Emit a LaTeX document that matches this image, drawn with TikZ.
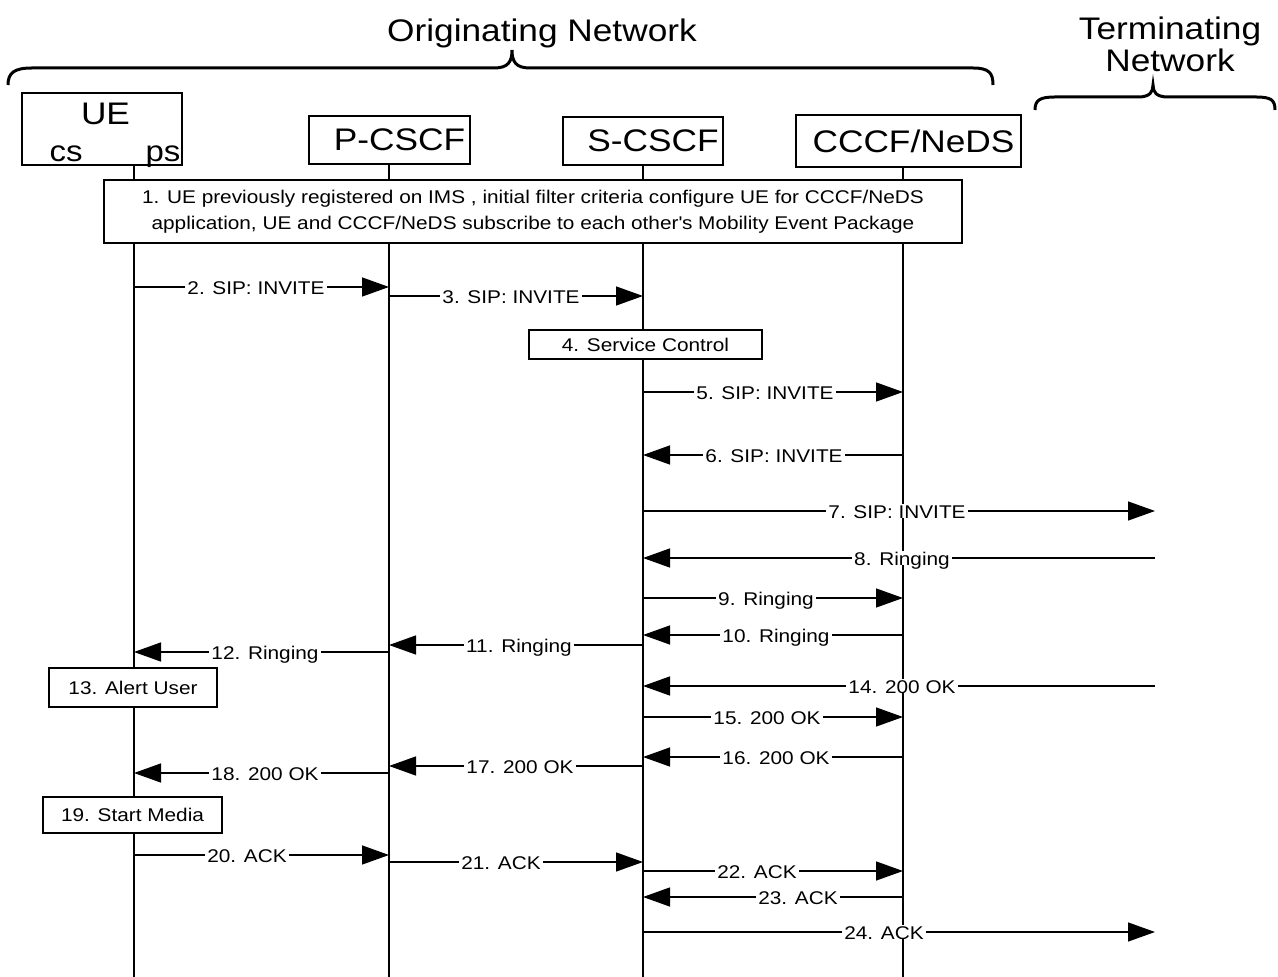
\documentclass[tikz,border=0pt]{standalone}
\usepackage{fontspec}
\setmainfont{Liberation Sans}[FakeStretch=1.13]
\usetikzlibrary{arrows.meta}

\begin{document}
\begin{tikzpicture}[x=0.5pt,y=-0.5pt,
        entity/.style={draw,line width=1.3pt,fill=white,inner sep=0pt,font=\fontsize{15.6}{18}\selectfont},
        lifeline/.style={line width=1.4pt},
        stepbox/.style={draw,line width=1.1pt,fill=white,inner sep=0pt,align=center,font=\fontsize{9.2}{13}\selectfont},
        msg/.style={line width=0.7pt,-{Triangle[length=13.5pt,width=9.5pt]}},
        msglabel/.style={fill=white,inner xsep=1pt,inner ysep=0pt,text height=1.38ex,text depth=0pt,font=\fontsize{9.2}{11}\selectfont},
        brace/.style={line width=1.5pt},
        netlabel/.style={font=\fontsize{15.6}{16}\selectfont,align=center}]

    \useasboundingbox (0,0) rectangle (1278,977);

    % network labels and braces
    \node[netlabel,anchor=base] (orig) at (542,42) {Originating Network};
    \node[netlabel] (term) at (1170,44) {Terminating\\Network};
    \draw[brace] (8,85) .. controls (8,73) and (14,68) .. (32,68) -- (494,68)
        .. controls (508,68) and (512,62) .. (512,50) .. controls (512,62) and (516,68) .. (530,68)
        -- (973,68) .. controls (989,68) and (993,73) .. (993,85);
    \draw[brace] (1035,110) .. controls (1035,100) and (1040,97) .. (1055,97) -- (1138,97)
        .. controls (1150,97) and (1153,92) .. (1153,85) .. controls (1153,92) and (1156,97) .. (1168,97)
        -- (1256,97) .. controls (1271,97) and (1275,100) .. (1275,110);

    % lifeline positions
    \coordinate (ue) at (134,0);
    \coordinate (pc) at (389,0);
    \coordinate (sc) at (643,0);
    \coordinate (cc) at (903,0);
    \coordinate (tn) at (1155,0);
    \coordinate (ueend) at (134,977);
    \coordinate (pcend) at (389,977);
    \coordinate (scend) at (643,977);
    \coordinate (ccend) at (903,977);

    % entities
    \node[entity,minimum width=80pt,minimum height=36pt] (uebox) at (102,129) {};
    \node[entity,draw=none,fill=none,anchor=base] (uetxt) at (105.5,125) {UE};
    \node[entity,draw=none,fill=none,anchor=base,font=\fontsize{14.6}{16}\selectfont] (cstxt) at (66,162) {cs};
    \node[entity,draw=none,fill=none,anchor=base,font=\fontsize{14.6}{16}\selectfont] (pstxt) at (163,162) {ps};
    \node[entity,minimum width=80.5pt,minimum height=24pt] (pcscf) at (389.5,140) {\hspace*{10pt}P-CSCF};
    \node[entity,minimum width=80pt,minimum height=24pt] (scscf) at (643,141) {\hspace*{10pt}S-CSCF};
    \node[entity,minimum width=112.5pt,minimum height=26pt] (cccf) at (908.5,141) {\hspace*{5pt}CCCF/NeDS};

    \draw[lifeline] (uebox.south -| ue) -- (ueend);
    \draw[lifeline] (pcscf.south -| pc) -- (pcend);
    \draw[lifeline] (scscf.south -| sc) -- (scend);
    \draw[lifeline] (cccf.south -| cc) -- (ccend);

    % steps
    \node[stepbox,minimum width=429pt,minimum height=31.5pt] (reg) at (533,211.5)
        {1. UE previously registered on IMS , initial filter criteria configure UE for CCCF/NeDS\\
         application, UE and CCCF/NeDS subscribe to each other\textquotesingle s Mobility Event Package};
    \node[stepbox,minimum width=116.5pt,minimum height=14.5pt] (svc) at (645.5,344.5) {4. Service Control};
    \node[stepbox,minimum width=84pt,minimum height=19.5pt] (alert) at (133,687.5) {13. Alert User};
    \node[stepbox,minimum width=89.5pt,minimum height=18pt] (media) at (132.5,815) {19. Start Media};

    % messages: y / from / to / label x / label
    \foreach \y/\src/\dst/\lx/\txt in {
        287/ue/pc/256/{2. SIP: INVITE},
        296/pc/sc/511/{3. SIP: INVITE},
        392/sc/cc/765/{5. SIP: INVITE},
        455/cc/sc/774/{6. SIP: INVITE},
        511/sc/tn/897/{7. SIP: INVITE},
        558/tn/sc/902/{8. Ringing},
        598/sc/cc/766/{9. Ringing},
        635/cc/sc/776/{10. Ringing},
        645/sc/pc/519/{11. Ringing},
        652/pc/ue/265/{12. Ringing},
        686/tn/sc/902/{14. 200 OK},
        717/sc/cc/767/{15. 200 OK},
        757/cc/sc/776/{16. 200 OK},
        766/sc/pc/520/{17. 200 OK},
        773/pc/ue/265/{18. 200 OK},
        855/ue/pc/247/{20. ACK},
        862/pc/sc/501/{21. ACK},
        871/sc/cc/757/{22. ACK},
        897/cc/sc/798/{23. ACK},
        932/sc/tn/884/{24. ACK}}
    {
        \draw[msg] (\src |- 0,\y) -- (\dst |- 0,\y);
        \node[msglabel] (lbl\y) at (\lx,\y) {\txt};
    }

\end{tikzpicture}
\end{document}
